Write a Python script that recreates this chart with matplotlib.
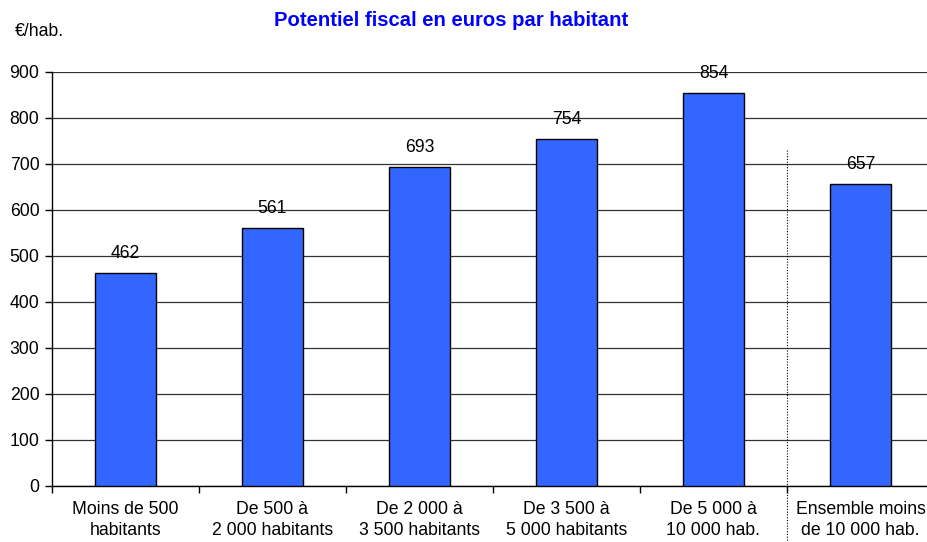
import matplotlib
matplotlib.use("Agg")
import matplotlib.pyplot as plt
import numpy as np

categories = ["Moins de 500\nhabitants", "De 500 à\n2 000 habitants", "De 2 000 à\n3 500 habitants",
              "De 3 500 à\n5 000 habitants", "De 5 000 à\n10 000 hab.", "Ensemble moins\nde 10 000 hab."]
values = [462, 561, 693, 754, 854, 657]
yticks = [0, 100, 200, 300, 400, 500, 600, 700, 800, 900]

plt.rcParams['font.family'] = ['Liberation Sans', 'DejaVu Sans']

FS = 12.7
W, H = 928, 542
fig = plt.figure(figsize=(W / 100, H / 100), dpi=100)
left, right, bottom, top = 52, 934, 486, 72
ax = fig.add_axes([left / W, 1 - bottom / H, (right - left) / W, (bottom - top) / H])

x = np.arange(len(values))
ax.bar(x, values, width=0.41, color="#3366FF", edgecolor="black", linewidth=1, zorder=3)
for xi, v in zip(x, values):
    ax.text(xi, v + 24, str(v), ha="center", va="bottom", fontsize=FS, color="black", zorder=4)

ax.set_xlim(-0.5, len(values) - 0.5)
ax.set_ylim(0, 900)
ax.set_yticks(yticks)
ax.set_yticklabels([str(t) for t in yticks], fontsize=FS)
ax.yaxis.grid(True, color="#333333", linewidth=0.9, zorder=0)
ax.set_axisbelow(True)

ax.set_xticks(np.arange(len(values) + 1) - 0.5, minor=False)
ax.set_xticklabels([])
ax.set_xticks(x, minor=True)
ax.set_xticklabels(categories, minor=True, fontsize=FS, linespacing=1.32)
ax.tick_params(axis="x", which="minor", length=0, pad=11)
ax.tick_params(axis="x", which="major", length=5, width=1, direction="out")
ax.tick_params(axis="y", length=5, width=1, direction="out", pad=4)

for s in ["top", "right"]:
    ax.spines[s].set_visible(False)
ax.spines["left"].set_linewidth(1)
ax.spines["bottom"].set_linewidth(1)

# dotted separator
ax.plot([4.5, 4.5], [730, -140], color="black", linestyle=(0, (1, 1.5)), linewidth=0.8,
        clip_on=False, zorder=2)

fig.text(451 / W, 1 - 20 / H, "Potentiel fiscal en euros par habitant", ha="center", va="center",
         fontsize=14.6, fontweight="bold", color="#0000FF")
fig.text(15 / W, 1 - 31 / H, "€/hab.", ha="left", va="center", fontsize=FS, color="black")

fig.savefig("out.png", dpi=100)
